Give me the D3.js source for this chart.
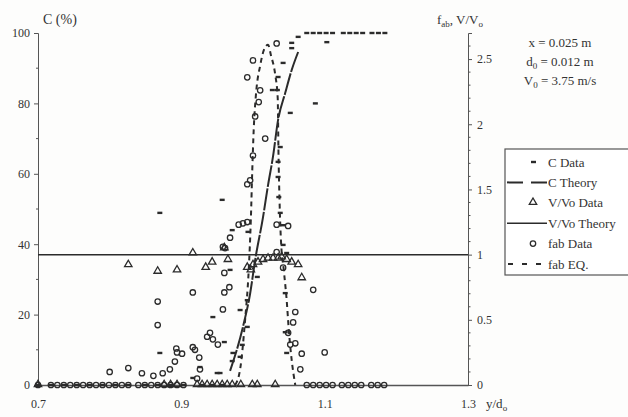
<!DOCTYPE html>
<html>
<head>
<meta charset="utf-8">
<script src="https://cdnjs.cloudflare.com/ajax/libs/d3/7.8.5/d3.min.js"></script>
<style>
body { margin: 0; background: #fff; }
svg text { font-family: "Liberation Serif", "DejaVu Serif", serif !important; fill: #333; }
</style>
</head>
<body>
<div id="chart"></div>
<script>
// axis ticks
const xTicks = [0.7, 0.9, 1.1, 1.3]
const cTicks = [0, 20, 40, 60, 80, 100]
const cMinor = [10, 30, 50, 70, 90]
const rTicks = [0, 0.5, 1, 1.5, 2, 2.5]
const rMinor = [0.1, 0.2, 0.3, 0.4, 0.6, 0.7, 0.8, 0.9, 1.1, 1.2, 1.3, 1.4, 1.6, 1.7, 1.8, 1.9, 2.1, 2.2, 2.3, 2.4, 2.6]

// C (%) data, left axis  [y/d0, C]
const cData = [
  [0.700, 0], [0.718, 0], [0.736, 0], [0.754, 0], [0.772, 0], [0.790, 0], [0.808, 0], [0.826, 0],
  [0.849, 0], [0.867, 0], [0.885, 0], [0.903, 0], [0.929, 0], [0.943, 0], [0.957, 0],
  [0.870, 9.1], [0.870, 48.9], [0.916, 2.0], [0.926, 5.1], [0.944, 19.3], [0.950, 3.4], [0.954, 3.4],
  [0.960, 12.2], [0.957, 52.6], [0.968, 32.7], [0.971, 44.0], [0.971, 6.8], [0.972, 9.1],
  [0.982, 21.3], [0.982, 8.0], [0.985, 11.4], [0.992, 16.5], [0.992, 24.1], [0.993, 43.5], [1.006, 30.7],
  [1.042, 39.8], [1.045, 26.1], [1.045, 15.0], [1.047, 9.1], [1.047, 37.5], [1.042, 45.4],
  [1.038, 48.9], [1.036, 53.4], [1.035, 59.1], [1.035, 63.4], [1.038, 67.6], [1.052, 77.3],
  [1.027, 83.8], [1.034, 83.8], [1.035, 87.5], [1.042, 91.5], [1.054, 95.7], [1.054, 97.2], [1.063, 98.9],
  [1.087, 80.0], [1.103, 97.4],
  [1.075, 100], [1.084, 100], [1.093, 100], [1.102, 100], [1.111, 100],
  [1.126, 100], [1.135, 100], [1.144, 100], [1.153, 100],
  [1.166, 100], [1.175, 100], [1.184, 100]
]

// C theory, left axis
const cTheory = [
  [0.968, 4], [0.986, 16.5], [0.996, 26], [1.003, 35.5], [1.014, 47.7], [1.021, 56.8],
  [1.028, 65], [1.035, 75.3], [1.045, 83], [1.054, 89.5], [1.063, 94.6]
]

// V/Vo data, right axis
const vData = [
  [0.700, 0], [0.876, 0], [0.885, 0], [0.894, 0], [0.922, 0], [0.929, 0], [0.936, 0], [0.943, 0],
  [0.950, 0], [0.957, 0], [0.964, 0], [0.971, 0], [0.983, 0], [0.999, 0], [1.006, 0], [1.031, 0],
  [0.826, 0.92], [0.867, 0.87], [0.894, 0.88], [0.916, 1.01], [0.934, 0.90], [0.943, 0.94],
  [0.960, 1.05], [0.965, 0.96], [0.992, 0.90], [0.997, 0.88], [1.000, 0.92], [1.007, 0.94],
  [1.014, 0.96], [1.021, 0.97], [1.028, 0.97], [1.035, 0.97], [1.040, 0.98], [1.047, 0.96],
  [1.054, 0.94], [1.063, 0.92], [1.068, 0.82]
]

// V/Vo theory, right axis
const vTheory = [[0.7, 1], [1.3, 1]]

// fab data, right axis
const fabData = [
  [0.700, 0], [0.718, 0], [0.727, 0], [0.736, 0], [0.745, 0], [0.754, 0], [0.763, 0],
  [0.772, 0], [0.781, 0], [0.790, 0], [0.799, 0], [0.808, 0], [0.817, 0], [0.826, 0],
  [0.840, 0], [0.849, 0], [0.858, 0], [0.867, 0], [0.876, 0], [0.885, 0], [0.894, 0], [0.903, 0],
  [1.075, 0], [1.084, 0], [1.093, 0], [1.102, 0], [1.111, 0],
  [1.124, 0], [1.133, 0], [1.142, 0], [1.151, 0],
  [1.165, 0], [1.174, 0], [1.183, 0],
  [0.800, 0.10], [0.826, 0.13], [0.845, 0.09], [0.861, 0.07], [0.867, 0.64], [0.867, 0.46],
  [0.874, 0.09], [0.884, 0.12], [0.891, 0.18], [0.893, 0.28], [0.894, 0.25], [0.901, 0.24],
  [0.916, 0.71], [0.916, 0.29], [0.919, 0.27], [0.925, 0.21], [0.926, 0.12], [0.922, 0.05],
  [0.936, 0.37], [0.940, 0.40], [0.944, 0.35], [0.951, 0.31], [0.958, 0.58], [0.960, 0.71],
  [0.960, 0.86], [0.967, 0.75], [0.961, 1.05], [0.968, 1.13], [0.958, 1.06],
  [0.980, 1.23], [0.986, 1.24], [0.992, 1.25], [0.996, 1.57], [0.992, 1.54], [1.000, 1.76],
  [1.017, 1.89], [1.003, 2.06], [1.008, 2.17], [1.010, 2.26], [0.992, 2.36], [1.000, 2.49],
  [1.033, 2.62], [1.033, 1.23], [1.049, 1.22], [1.033, 1.02], [1.042, 0.90],
  [1.059, 0.56], [1.056, 0.48], [1.049, 0.40], [1.052, 0.31], [1.059, 0.32], [1.068, 0.24],
  [1.066, 0.12], [1.084, 0.73], [1.100, 0.25]
]

// fab EQ., right axis
const fabEq = [
  [0.975, 0], [0.982, 0.12], [0.989, 0.50], [0.994, 0.88], [0.997, 1.27], [0.999, 1.65],
  [1.001, 1.96], [1.004, 2.22], [1.010, 2.45], [1.016, 2.58], [1.021, 2.61], [1.025, 2.53],
  [1.031, 2.38], [1.0345, 2.20], [1.0355, 1.80], [1.037, 1.42], [1.039, 1.11], [1.043, 0.88],
  [1.047, 0.65], [1.050, 0.42], [1.054, 0.19], [1.059, 0]
]

const legendLabels = ["C Data", "C Theory", "V/Vo Data", "V/Vo Theory", "fab Data", "fab EQ."]

class chart {
  constructor(parent) {
    this.parent = parent
    this.width = 628
    this.height = 417
    this.ink = "#2b2b2b"
    this.font = "Liberation Serif, DejaVu Serif, serif"
    this.x = d3.scaleLinear().domain([0.7, 1.3]).range([38, 468])
    this.yL = d3.scaleLinear().domain([0, 100]).range([385, 33])
    this.yR = d3.scaleLinear().domain([0, 2.7]).range([385, 33])
    this.draw()
  }

  draw() {
    this.svg = this.parent.append("svg")
      .attr("width", this.width)
      .attr("height", this.height)
      .attr("font-family", this.font)
    this.svg.append("rect")
      .attr("width", this.width).attr("height", this.height)
      .attr("fill", "#fdfdfc")
    this.axes()
    this.series()
    this.legend()
    this.notes()
  }//end of draw

  axes() {
    const g = this.svg.append("g")
    // left
    const left = g.append("g").attr("transform", "translate(38,0)")
      .call(d3.axisLeft(this.yL).tickValues(cTicks).tickSize(4).tickPadding(4))
    left.append("g").selectAll("line").data(cMinor).join("line")
      .attr("x1", -2).attr("x2", 0)
      .attr("y1", d => this.yL(d)).attr("y2", d => this.yL(d))
    // right
    const right = g.append("g").attr("transform", "translate(468,0)")
      .call(d3.axisRight(this.yR).tickValues(rTicks).tickSize(4).tickPadding(5).tickFormat(d3.format("")))
    right.append("g").selectAll("line").data(rMinor).join("line")
      .attr("x1", 0).attr("x2", 2.5)
      .attr("y1", d => this.yR(d)).attr("y2", d => this.yR(d))
    // bottom
    const bottom = g.append("g").attr("transform", "translate(0,385)")
      .call(d3.axisBottom(this.x).tickValues(xTicks).tickSize(0).tickPadding(14).tickFormat(d3.format(".1f")))
    bottom.select(".domain").attr("stroke-width", 1.4)

    g.selectAll("g").attr("font-family", this.font)
    g.selectAll(".domain").attr("stroke", "#555")
    g.selectAll("line").attr("stroke", "#555")
    g.selectAll(".tick text").attr("font-size", 12).attr("fill", "#333")

    // titles
    this.svg.append("text").attr("x", 43).attr("y", 24)
      .attr("font-size", 14).text("C (%)")
    const rt = this.svg.append("text").attr("x", 437).attr("y", 24).attr("font-size", 13)
    rt.append("tspan").text("f")
    rt.append("tspan").attr("font-size", 9).attr("dy", 3).text("ab")
    rt.append("tspan").attr("dy", -3).text(", V/V")
    rt.append("tspan").attr("font-size", 9).attr("dy", 3).text("o")
    const xt = this.svg.append("text").attr("x", 486).attr("y", 408).attr("font-size", 13)
    xt.append("tspan").text("y/d")
    xt.append("tspan").attr("font-size", 9).attr("dy", 3).text("o")
  }

  series() {
    const ink = this.ink
    // V/Vo theory
    const lineR = d3.line().x(d => this.x(d[0])).y(d => this.yR(d[1]))
    this.svg.append("path").datum(vTheory).attr("d", lineR)
      .attr("fill", "none").attr("stroke", ink).attr("stroke-width", 1.5)

    // fab EQ.
    const curveR = d3.line().x(d => this.x(d[0])).y(d => this.yR(d[1])).curve(d3.curveMonotoneX)
    this.svg.append("path").datum(fabEq).attr("d", curveR)
      .attr("fill", "none").attr("stroke", ink).attr("stroke-width", 2)
      .attr("stroke-dasharray", "5,4")

    // C theory
    const curveL = d3.line().x(d => this.x(d[0])).y(d => this.yL(d[1])).curve(d3.curveMonotoneX)
    this.svg.append("path").datum(cTheory).attr("d", curveL)
      .attr("fill", "none").attr("stroke", ink).attr("stroke-width", 2)
      .attr("stroke-dasharray", "22,1.5")

    // fab data
    this.svg.append("g").selectAll("circle").data(fabData).join("circle")
      .attr("cx", d => this.x(d[0])).attr("cy", d => this.yR(d[1]))
      .attr("r", 2.7).attr("fill", "none").attr("stroke", ink).attr("stroke-width", 1.3)

    // V/Vo data
    const tri = d3.symbol(d3.symbolTriangle, 24)
    this.svg.append("g").selectAll("path").data(vData).join("path")
      .attr("d", tri)
      .attr("transform", d => `translate(${this.x(d[0])},${this.yR(d[1]) - 0.5})`)
      .attr("fill", "none").attr("stroke", ink).attr("stroke-width", 1.3)

    // C data
    this.svg.append("g").selectAll("rect").data(cData).join("rect")
      .attr("x", d => this.x(d[0]) - 2.5).attr("y", d => this.yL(d[1]) - 1.2)
      .attr("width", 5).attr("height", 2.4).attr("fill", ink)
  }

  legend() {
    const ink = this.ink
    const g = this.svg.append("g").attr("transform", "translate(505,149)")
    g.append("rect").attr("x", 0).attr("y", 0).attr("width", 140).attr("height", 126)
      .attr("fill", "#fff").attr("stroke", "#555").attr("stroke-width", 1.2)
    const rowY = d3.scalePoint().domain(legendLabels).range([13, 115])
    legendLabels.forEach((name, i) => {
      const y = rowY(name)
      const row = g.append("g").attr("transform", `translate(0,${y})`)
      if (i == 0) {
        row.append("rect").attr("x", 26).attr("y", -1.2).attr("width", 5).attr("height", 2.4).attr("fill", ink)
      } else if (i == 1) {
        row.append("line").attr("x1", 2).attr("x2", 42).attr("stroke", ink).attr("stroke-width", 2)
          .attr("stroke-dasharray", "16,8")
      } else if (i == 2) {
        row.append("path").attr("d", d3.symbol(d3.symbolTriangle, 24)).attr("transform", "translate(28,-0.5)")
          .attr("fill", "none").attr("stroke", ink).attr("stroke-width", 1.3)
      } else if (i == 3) {
        row.append("line").attr("x1", 2).attr("x2", 42).attr("stroke", ink).attr("stroke-width", 1.5)
      } else if (i == 4) {
        row.append("circle").attr("cx", 28).attr("r", 2.7)
          .attr("fill", "none").attr("stroke", ink).attr("stroke-width", 1.3)
      } else {
        row.append("line").attr("x1", 3).attr("x2", 42).attr("stroke", ink).attr("stroke-width", 2)
          .attr("stroke-dasharray", "5,9")
      }
      row.append("text").attr("x", 43).attr("y", 4.5).attr("font-size", 13).text(name)
    })
  }

  notes() {
    const g = this.svg.append("g").attr("font-size", 13)
    g.append("text").attr("x", 560).attr("y", 47).attr("text-anchor", "middle").text("x = 0.025 m")
    const d = g.append("text").attr("x", 560).attr("y", 66).attr("text-anchor", "middle")
    d.append("tspan").text("d")
    d.append("tspan").attr("font-size", 9).attr("dy", 3).text("0")
    d.append("tspan").attr("dy", -3).text(" = 0.012 m")
    const v = g.append("text").attr("x", 560).attr("y", 85).attr("text-anchor", "middle")
    v.append("tspan").text("V")
    v.append("tspan").attr("font-size", 9).attr("dy", 3).text("0")
    v.append("tspan").attr("dy", -3).text(" = 3.75 m/s")
  }
};

var ch = new chart(d3.select("body").select("#chart"))
</script>
</body>
</html>
